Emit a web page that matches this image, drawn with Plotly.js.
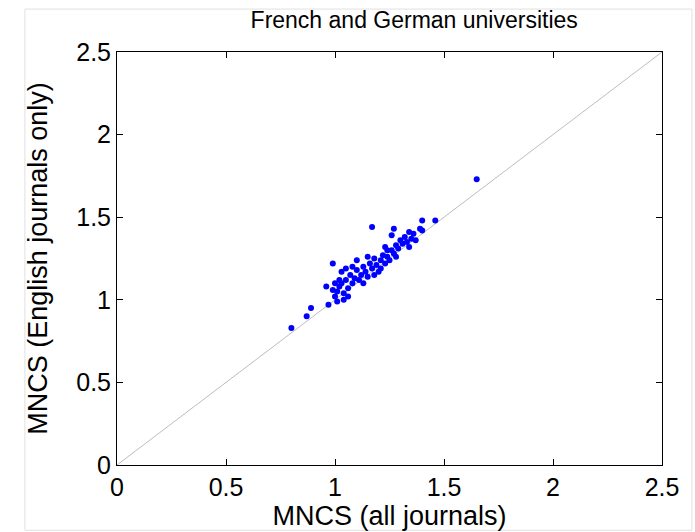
<!DOCTYPE html>
<html>
<head>
<meta charset="utf-8">
<script src="https://cdn.plot.ly/plotly-3.0.1.min.js"></script>
<style>html,body{margin:0;padding:0;background:#fff;}#chart{width:695px;height:532px;}</style>
</head>
<body>
<div id="chart"></div>
<script>
const mncsAll = [0.80,0.87,0.89,0.97,0.96,0.99,1.17,1.65,1.40,1.46,1.27,1.34,1.39,1.26,1.23,
  1.00,1.01,1.02,1.03,1.04,1.05,1.03,1.05,1.06,1.07,1.08,1.09,1.10,1.11,1.12,1.13,1.14,1.15,1.16,1.17,
  1.18,1.19,1.20,1.21,1.22,1.23,1.24,1.25,1.26,1.27,1.28,1.29,1.30,1.31,1.32,1.33,1.35,1.36,1.37,
  1.02,1.00,1.04,1.08,1.10,1.13,1.06,1.18,1.28,1.34,1.40,0.99,1.01,1.15,1.21,1.24];
const mncsEnglish = [0.83,0.90,0.95,0.97,1.08,1.22,1.44,1.73,1.48,1.48,1.43,1.41,1.43,1.39,1.32,
  1.02,1.05,1.08,1.10,1.04,1.12,1.17,1.19,1.07,1.15,1.10,1.13,1.18,1.12,1.15,1.20,1.17,1.14,1.22,1.19,
  1.25,1.21,1.17,1.24,1.27,1.22,1.26,1.24,1.30,1.28,1.33,1.31,1.36,1.34,1.38,1.35,1.37,1.40,1.36,
  1.12,1.10,1.00,1.20,1.24,1.10,1.02,1.15,1.26,1.32,1.42,1.06,0.99,1.26,1.19,1.30];
const diagX = [0, 2.5];
const diagY = [0, 2.5];
const tickVals = [0, 0.5, 1, 1.5, 2, 2.5];
const tickText = ['0', '0.5', '1', '1.5', '2', '2.5'];

const font = {family: 'Liberation Sans, Arial, sans-serif', color: '#000'};
const axisCommon = {
  range: [0, 2.5], tickvals: tickVals, ticktext: tickText,
  ticks: 'inside', ticklen: 6, tickcolor: '#000', tickwidth: 1,
  showline: true, linecolor: '#000', linewidth: 1, mirror: 'ticks',
  showgrid: false, zeroline: false, fixedrange: true,
  tickfont: {family: font.family, color: '#000', size: 25}
};

const data = [
  {x: diagX, y: diagY, mode: 'lines', type: 'scatter',
   line: {color: '#bdbdbd', width: 1}, hoverinfo: 'skip', showlegend: false},
  {x: mncsAll, y: mncsEnglish, mode: 'markers', type: 'scatter',
   marker: {color: '#0000ff', size: 6, symbol: 'circle'}, showlegend: false}
];

const layout = {
  width: 695, height: 532,
  margin: {l: 117, r: 33, t: 52, b: 67},
  paper_bgcolor: '#fff', plot_bgcolor: '#fff',
  font: font,
  title: {text: 'French and German universities', font: {family: font.family, size: 23, color: '#000'},
          x: 0.596, xanchor: 'center', y: 0.962, yanchor: 'middle', yref: 'container'},
  xaxis: Object.assign({}, axisCommon, {
    title: {text: 'MNCS (all journals)', font: {family: font.family, size: 27, color: '#000'}, standoff: 1}
  }),
  yaxis: Object.assign({}, axisCommon, {
    title: {text: 'MNCS (English journals only)', font: {family: font.family, size: 27, color: '#000'}, standoff: 20}
  }),
  shapes: [{type: 'rect', xref: 'paper', yref: 'paper',
            x0: -0.169, x1: 1.055, y0: -0.158, y1: 1.104,
            line: {color: '#e0e0e0', width: 1}, fillcolor: 'rgba(0,0,0,0)', layer: 'below'}]
};

Plotly.newPlot('chart', data, layout, {displayModeBar: false, staticPlot: true});
</script>
</body>
</html>
